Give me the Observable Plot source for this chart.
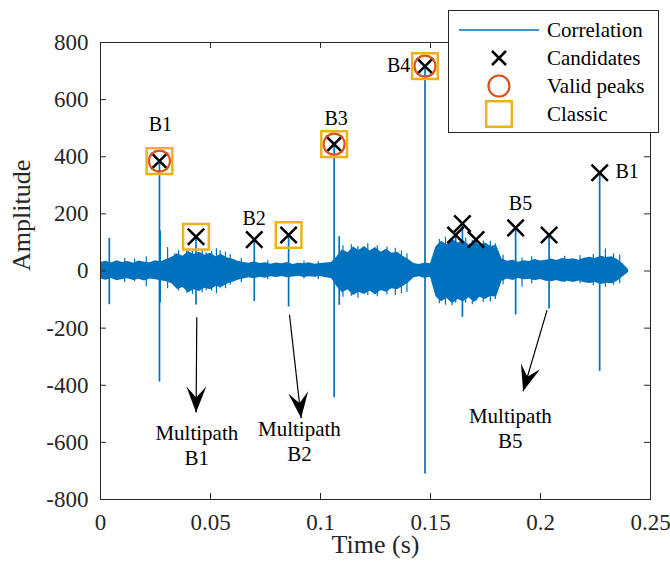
<!DOCTYPE html>
<html><head><meta charset="utf-8">
<script src="https://cdn.jsdelivr.net/npm/d3@7"></script>
<script src="https://cdn.jsdelivr.net/npm/@observablehq/plot@0.6"></script>
<style>
body{margin:0;background:#fff;}
#wrap{position:relative;width:670px;height:569px;font-family:"Liberation Serif","Times New Roman",serif;}
#legend{position:absolute;left:448px;top:10px;}
</style></head><body>
<div id="wrap"><div id="chart"></div><svg id="legend" width="212" height="124"></svg></div>
<script>
// ---------- data ----------
const xTicks = [0, 0.05, 0.1, 0.15, 0.2, 0.25];
const xTickLabels = ["0", "0.05", "0.1", "0.15", "0.2", "0.25"];
const yTicks = [-800, -600, -400, -200, 0, 200, 400, 600, 800];
const yTickLabels = ["-800", "-600", "-400", "-200", "0", "200", "400", "600", "800"];
const xTitle = "Time (s)";
const yTitle = "Amplitude";
const legendNames = ["Correlation", "Candidates", "Valid peaks", "Classic"];

// noise envelope of the correlation signal (upper / lower)
const noiseT = [0,0.0025,0.005,0.0075,0.01,0.0125,0.015,0.0175,0.02,0.0225,0.025,0.0275,0.03,0.0325,0.035,0.0375,0.04,0.0425,0.045,0.0475,0.05,0.0525,0.055,0.0575,0.06,0.0625,0.065,0.0675,0.07,0.0725,0.075,0.0775,0.08,0.0825,0.085,0.0875,0.09,0.0925,0.095,0.0975,0.1,0.1025,0.105,0.1075,0.11,0.1125,0.115,0.1175,0.12,0.1225,0.125,0.1275,0.13,0.1325,0.135,0.1375,0.14,0.1425,0.145,0.1475,0.15,0.1525,0.155,0.1575,0.16,0.1625,0.165,0.1675,0.17,0.1725,0.175,0.1775,0.18,0.1825,0.185,0.1875,0.19,0.1925,0.195,0.1975,0.2,0.2025,0.205,0.2075,0.21,0.2125,0.215,0.2175,0.22,0.2225,0.225,0.2275,0.23,0.2325,0.235,0.2375,0.24];
const noiseHi = [30,34,28,36,30,33,27,35,31,29,36,32,40,
                 48,60,52,68,58,66,55,62,50,58,46,42,
                 34,30,27,32,26,29,24,28,25,30,23,27,25,29,24,26,28,30,
                 50,74,64,84,72,86,70,82,66,76,62,66,52,
                 40,26,23,28,25,
                 85,104,92,110,98,106,92,102,90,98,86,90,
                 42,34,38,31,36,33,40,35,38,42,37,44,40,43,38,45,48,44,52,47,50,40,25,5];
const noiseLo = [-28,-32,-26,-34,-30,-27,-33,-29,-35,-28,-31,-34,-38,
                 -45,-65,-58,-76,-66,-72,-60,-66,-54,-58,-46,-40,
                 -32,-28,-24,-27,-22,-25,-20,-23,-19,-24,-21,-18,-23,-20,-22,-19,-24,-26,
                 -55,-76,-66,-86,-74,-82,-70,-84,-68,-74,-62,-66,-54,
                 -42,-24,-20,-26,-22,
                 -90,-108,-96,-114,-100,-108,-94,-110,-92,-100,-88,-92,
                 -36,-28,-33,-26,-31,-29,-34,-30,-36,-38,-33,-39,-36,-40,-35,-41,-44,-40,-47,-43,-45,-36,-20,-5];

// main spikes of the correlation
const spikeT  = [0.0040, 0.0268, 0.0434, 0.0699, 0.0855, 0.1062, 0.1085, 0.1475, 0.1614, 0.1645, 0.1707, 0.1887, 0.2039, 0.2269];
const spikeHi = [114, 385, 120, 110, 126, 444, 120, 717, 126, 166, 110, 151, 126, 344];
const spikeLo = [-118, -389, -119, -107, -126, -444, -120, -711, -112, -162, -105, -154, -133, -352];

// minor spikes / needles on the noise
const hairT  = [0.0110, 0.0155, 0.0208, 0.0272, 0.0305, 0.0338, 0.0355, 0.0392, 0.0418, 0.0462, 0.0480, 0.0505, 0.0527, 0.0544, 0.0568, 0.0590, 0.0640, 0.0760, 0.0925, 0.0990,
                0.1102, 0.1140, 0.1170, 0.1215, 0.1258, 0.1302, 0.1340, 0.1368, 0.1393,
                0.1540, 0.1568, 0.1598, 0.1660, 0.1690, 0.1740, 0.1772, 0.1795,
                0.1830, 0.1916, 0.1960, 0.2110, 0.2180, 0.2240, 0.2295, 0.2332, 0.2360];
const hairHi = [45, 42, 50, 140, 82, 60, 72, 75, 70, 74, 64, 68, 78, 71, 66, 58, 44, 36, 34, 32,
                88, 92, 86, 95, 88, 84, 80, 70, 60,
                110, 118, 112, 115, 108, 105, 104, 95,
                55, 45, 50, 52, 54, 58, 77, 60, 55];
const hairLo = [-40, -38, -55, -112, -62, -40, -70, -78, -82, -76, -69, -70, -80, -60, -62, -50, -40, -30, -28, -30,
                -92, -88, -95, -86, -90, -84, -86, -80, -75,
                -115, -120, -122, -112, -118, -110, -108, -100,
                -48, -57, -45, -40, -45, -52, -57, -50, -45];

// markers
const candT = [0.0268, 0.0434, 0.0699, 0.0855, 0.1062, 0.1475, 0.1614, 0.1645, 0.1707, 0.1887, 0.2039, 0.2269];
const candV = [385, 120, 110, 126, 444, 717, 126, 166, 110, 151, 126, 344];
const validT = [0.0268, 0.1062, 0.1475];
const validV = [385, 444, 717];
const classicT = [0.0268, 0.0434, 0.0855, 0.1062, 0.1475];
const classicV = [385, 120, 126, 444, 717];

// text labels
const labelS = ["B1", "B2", "B3", "B4", "B5", "B1"];
const labelT = [0.0272, 0.0698, 0.1071, 0.1355, 0.1909, 0.2394];
const labelV = [514, 182, 535, 718, 237, 348];

const mpS = ["Multipath\nB1", "Multipath\nB2", "Multipath\nB5"];
const mpT = [0.0438, 0.0904, 0.1863];
const mpV = [-606, -594, -547];

// annotation arrows (start -> tip)
const arrT1 = [0.04377, 0.0859, 0.2030];
const arrV1 = [-162, -153, -137];
const arrT2 = [0.04345, 0.0912, 0.1921];
const arrV2 = [-495, -515, -421];

// ---------- build ----------
const BLUE = "#0072BD", ORANGE = "#D95319", YELLOW = "#EDB120", AX = "#262626";
const FONT = "'Liberation Serif', 'Times New Roman', serif";

const noise = noiseT.map((t, i) => ({t, hi: noiseHi[i], lo: noiseLo[i]}));
const spikes = spikeT.map((t, i) => ({t, hi: spikeHi[i], lo: spikeLo[i]}));
const hairs = hairT.map((t, i) => ({t, hi: hairHi[i], lo: hairLo[i]}));
const cands = candT.map((t, i) => ({t, v: candV[i]}));
const valids = validT.map((t, i) => ({t, v: validV[i]}));
const classics = classicT.map((t, i) => ({t, v: classicV[i]}));
const labels = labelS.map((s, i) => ({s, t: labelT[i], v: labelV[i]}));
const mps = mpS.map((s, i) => ({s, t: mpT[i], v: mpV[i]}));
const arrows = arrT1.map((t, i) => ({t1: t, v1: arrV1[i], t2: arrT2[i], v2: arrV2[i]}));
const xt = xTicks.map((t, i) => ({t, s: xTickLabels[i]}));
const yt = yTicks.map((v, i) => ({v, s: yTickLabels[i]}));

const tickLenV = 21;      // ~6px in amplitude units
const tickLenT = 0.0027;  // ~6px in time units

function baseMarks() {
  return [
    Plot.areaY(noise, {x: "t", y1: "lo", y2: "hi", fill: BLUE}),
    Plot.ruleX(hairs, {x: "t", y1: "lo", y2: "hi", stroke: BLUE, strokeWidth: 1.2}),
    Plot.ruleX(spikes, {x: "t", y1: "lo", y2: "hi", stroke: BLUE, strokeWidth: 1.7}),
    Plot.frame({stroke: AX, strokeWidth: 1}),
    Plot.ruleX(xTicks, {x: d => d, y1: -800, y2: -800 + tickLenV, stroke: AX}),
    Plot.ruleX(xTicks, {x: d => d, y1: 800 - tickLenV, y2: 800, stroke: AX}),
    Plot.ruleY(yTicks, {y: d => d, x1: 0, x2: tickLenT, stroke: AX}),
    Plot.ruleY(yTicks, {y: d => d, x1: 0.25 - tickLenT, x2: 0.25, stroke: AX}),
    Plot.text(xt, {x: "t", y: -800, text: "s", dy: 23, fontSize: 23, fill: AX, fontFamily: FONT}),
    Plot.text(yt, {x: 0, y: "v", text: "s", dx: -12, textAnchor: "end", fontSize: 23, fill: AX, fontFamily: FONT}),
    Plot.text([xTitle], {frameAnchor: "bottom", dy: 53, fontSize: 26, fill: AX, fontFamily: FONT}),
    Plot.text([yTitle], {frameAnchor: "left", dx: -79, rotate: -90, fontSize: 26, fill: AX, fontFamily: FONT}),
    Plot.dot(cands, {x: "t", y: "v", symbol: "times", r: 7.5, stroke: "black", strokeWidth: 2.5}),
    Plot.dot(valids, {x: "t", y: "v", r: 10.5, stroke: ORANGE, strokeWidth: 2.2, fill: "none"}),
    Plot.dot(classics, {x: "t", y: "v", symbol: "square", r: 14.5, stroke: YELLOW, strokeWidth: 2.5, fill: "none"}),
    Plot.text(labels, {x: "t", y: "v", text: "s", fontSize: 20, fill: "black", fontFamily: FONT}),
    Plot.text(mps, {x: "t", y: "v", text: "s", fontSize: 21, lineHeight: 1.2, fill: "black", fontFamily: FONT}),
    Plot.link(arrows, {x1: "t1", y1: "v1", x2: "t2", y2: "v2", stroke: "black", strokeWidth: 1.2})
  ];
}

function options(marks) {
  return {
    width: 670, height: 569,
    marginLeft: 100, marginRight: 20, marginTop: 42, marginBottom: 70,
    x: {domain: [0, 0.25], axis: null},
    y: {domain: [-800, 800], axis: null},
    style: {fontFamily: FONT, fontSize: "23px", color: AX, background: "white", overflow: "visible"},
    marks
  };
}

// first pass to read the scales for arrowhead orientation
const first = Plot.plot(options(baseMarks()));
const sx = first.scale("x"), sy = first.scale("y");

function headSymbol(theta) {
  const pts = [[0, 0], [-10, 26], [0, 15], [10, 26]];
  const c = Math.cos(theta), s = Math.sin(theta);
  return {
    draw(ctx) {
      pts.forEach(([x, y], i) => {
        const X = x * c - y * s, Y = x * s + y * c;
        if (i) ctx.lineTo(X, Y); else ctx.moveTo(X, Y);
      });
      ctx.closePath();
    }
  };
}

const heads = arrows.map(a => {
  const dx = sx.apply(a.t2) - sx.apply(a.t1);
  const dy = sy.apply(a.v2) - sy.apply(a.v1);
  const theta = Math.atan2(dx, -dy);
  return Plot.dot([a], {x: "t2", y: "v2", r: 5, symbol: headSymbol(theta), fill: "black", stroke: "none"});
});

const chart = Plot.plot(options([...baseMarks(), ...heads]));
document.getElementById("chart").append(chart);

// ---------- legend ----------
const leg = d3.select("#legend");
leg.append("rect").attr("x", 0.5).attr("y", 0.5).attr("width", 210).attr("height", 122)
  .attr("fill", "white").attr("stroke", AX).attr("stroke-width", 1);
const rowY = [20, 48, 76, 104];
const symX = 51;
leg.append("line").attr("x1", 11).attr("x2", 91).attr("y1", rowY[0]).attr("y2", rowY[0])
  .attr("stroke", BLUE).attr("stroke-width", 1.5);
leg.append("path").attr("d", "M-7,-7L7,7M-7,7L7,-7").attr("transform", `translate(${symX},${rowY[1]})`)
  .attr("stroke", "black").attr("stroke-width", 2.5).attr("fill", "none");
leg.append("circle").attr("cx", symX).attr("cy", rowY[2]).attr("r", 10.5)
  .attr("stroke", ORANGE).attr("stroke-width", 2.2).attr("fill", "none");
leg.append("rect").attr("x", symX - 12.8).attr("y", rowY[3] - 12.8).attr("width", 25.6).attr("height", 25.6)
  .attr("stroke", YELLOW).attr("stroke-width", 2.5).attr("fill", "none");
legendNames.forEach((n, i) => {
  leg.append("text").attr("x", 99).attr("y", rowY[i]).attr("dy", "0.35em")
    .attr("font-family", FONT).attr("font-size", 21).attr("fill", "black").text(n);
});
</script></body></html>
